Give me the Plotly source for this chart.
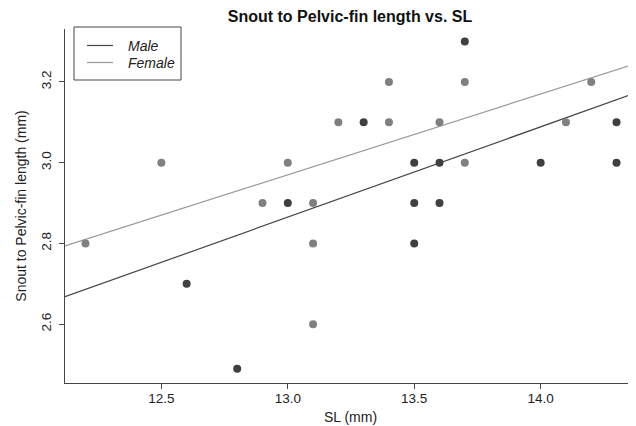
import plotly.graph_objects as go

male_sl = [12.6, 12.8, 13.0, 13.3, 13.5, 13.5, 13.5, 13.6, 13.6, 13.7, 14.0, 14.3, 14.3]
male_len = [2.7, 2.49, 2.9, 3.1, 3.0, 2.9, 2.8, 3.0, 2.9, 3.3, 3.0, 3.1, 3.0]

female_sl = [12.2, 12.5, 12.9, 13.0, 13.1, 13.1, 13.1, 13.2, 13.4, 13.4, 13.6, 13.7, 13.7, 14.1, 14.2]
female_len = [2.8, 3.0, 2.9, 3.0, 2.9, 2.8, 2.6, 3.1, 3.2, 3.1, 3.1, 3.2, 3.0, 3.1, 3.2]

# fitted lines as drawn (intercept, slope)
male_fit = (-0.043, 0.2237)
female_fit = (0.370, 0.200)

x_ticks = [12.5, 13.0, 13.5, 14.0]
y_ticks = [2.6, 2.8, 3.0, 3.2]

x_range = [12.119, 14.377]
y_range = [2.4545, 3.331]

male_col = "#404040"
female_col = "#808080"
font = "Liberation Sans, Arial, Helvetica, sans-serif"

# the page body has an 8px margin, so the figure is 8px smaller and margins shifted
W, H = 636, 426
OFF = 8
ML, MT, MB = 65 - OFF, 29 - OFF, 43
PW, PH = W - 65, 383 - 29  # plot area in page pixels


def px_x(x):
    return (x - 65) / PW


def px_y(y):
    return (383 - y) / PH


fig = go.Figure()

legend_items = [("Male", male_fit, "#444444", 45.5), ("Female", female_fit, "#999999", 62.5)]

for name, fit, lcol, ly in legend_items:
    a, b = fit
    fig.add_trace(go.Scatter(x=x_range, y=[a + b * v for v in x_range], mode="lines",
                             name=name, showlegend=False, line=dict(color=lcol, width=1.2)))
    fig.add_shape(type="line", xref="paper", yref="paper",
                  x0=px_x(87), x1=px_x(113), y0=px_y(ly), y1=px_y(ly),
                  line=dict(color=lcol, width=1.2))
    fig.add_annotation(text=f"<i>{name}</i>", xref="paper", yref="paper",
                       x=px_x(126), y=px_y(ly), xanchor="left", yanchor="middle",
                       showarrow=False, font=dict(family=font, size=14, color="#222222"))

# legend frame
fig.add_shape(type="rect", xref="paper", yref="paper",
              x0=px_x(74), x1=px_x(181), y0=px_y(80), y1=px_y(27),
              line=dict(color="#444444", width=1), fillcolor="rgba(0,0,0,0)")

fig.add_trace(go.Scatter(x=female_sl, y=female_len, mode="markers", showlegend=False,
                         marker=dict(color=female_col, size=8, line=dict(width=0))))
fig.add_trace(go.Scatter(x=male_sl, y=male_len, mode="markers", showlegend=False,
                         marker=dict(color=male_col, size=8, line=dict(width=0))))

axis_common = dict(showgrid=False, zeroline=False, showline=True, linecolor="#444444",
                   linewidth=1.2, ticks="outside", ticklen=5, tickcolor="#444444",
                   automargin=False,
                   tickfont=dict(family=font, size=13.5, color="#222222"))

fig.update_xaxes(range=x_range, tickvals=x_ticks, tickformat=".1f", ticklabelstandoff=-2,
                 title=dict(text="SL (mm)", font=dict(family=font, size=14, color="#222222"),
                            standoff=6),
                 **axis_common)
fig.update_yaxes(range=y_range, tickvals=y_ticks, tickformat=".1f", tickangle=-90,
                 ticklabelstandoff=3,
                 title=dict(text="Snout to Pelvic-fin length (mm)",
                            font=dict(family=font, size=14, color="#222222"), standoff=8),
                 **axis_common)

fig.update_layout(
    width=W - OFF, height=H - OFF,
    margin=dict(l=ML, r=0, t=MT, b=MB),
    plot_bgcolor="white", paper_bgcolor="white",
    title=dict(text="<b>Snout to Pelvic-fin length vs. SL</b>",
               x=(350 - OFF) / (W - OFF), xanchor="center",
               y=1 - (16 - OFF) / (H - OFF), yanchor="middle", automargin=False,
               font=dict(family=font, size=16, color="#111111")),
    showlegend=False,
)

fig.write_html("out.html")
